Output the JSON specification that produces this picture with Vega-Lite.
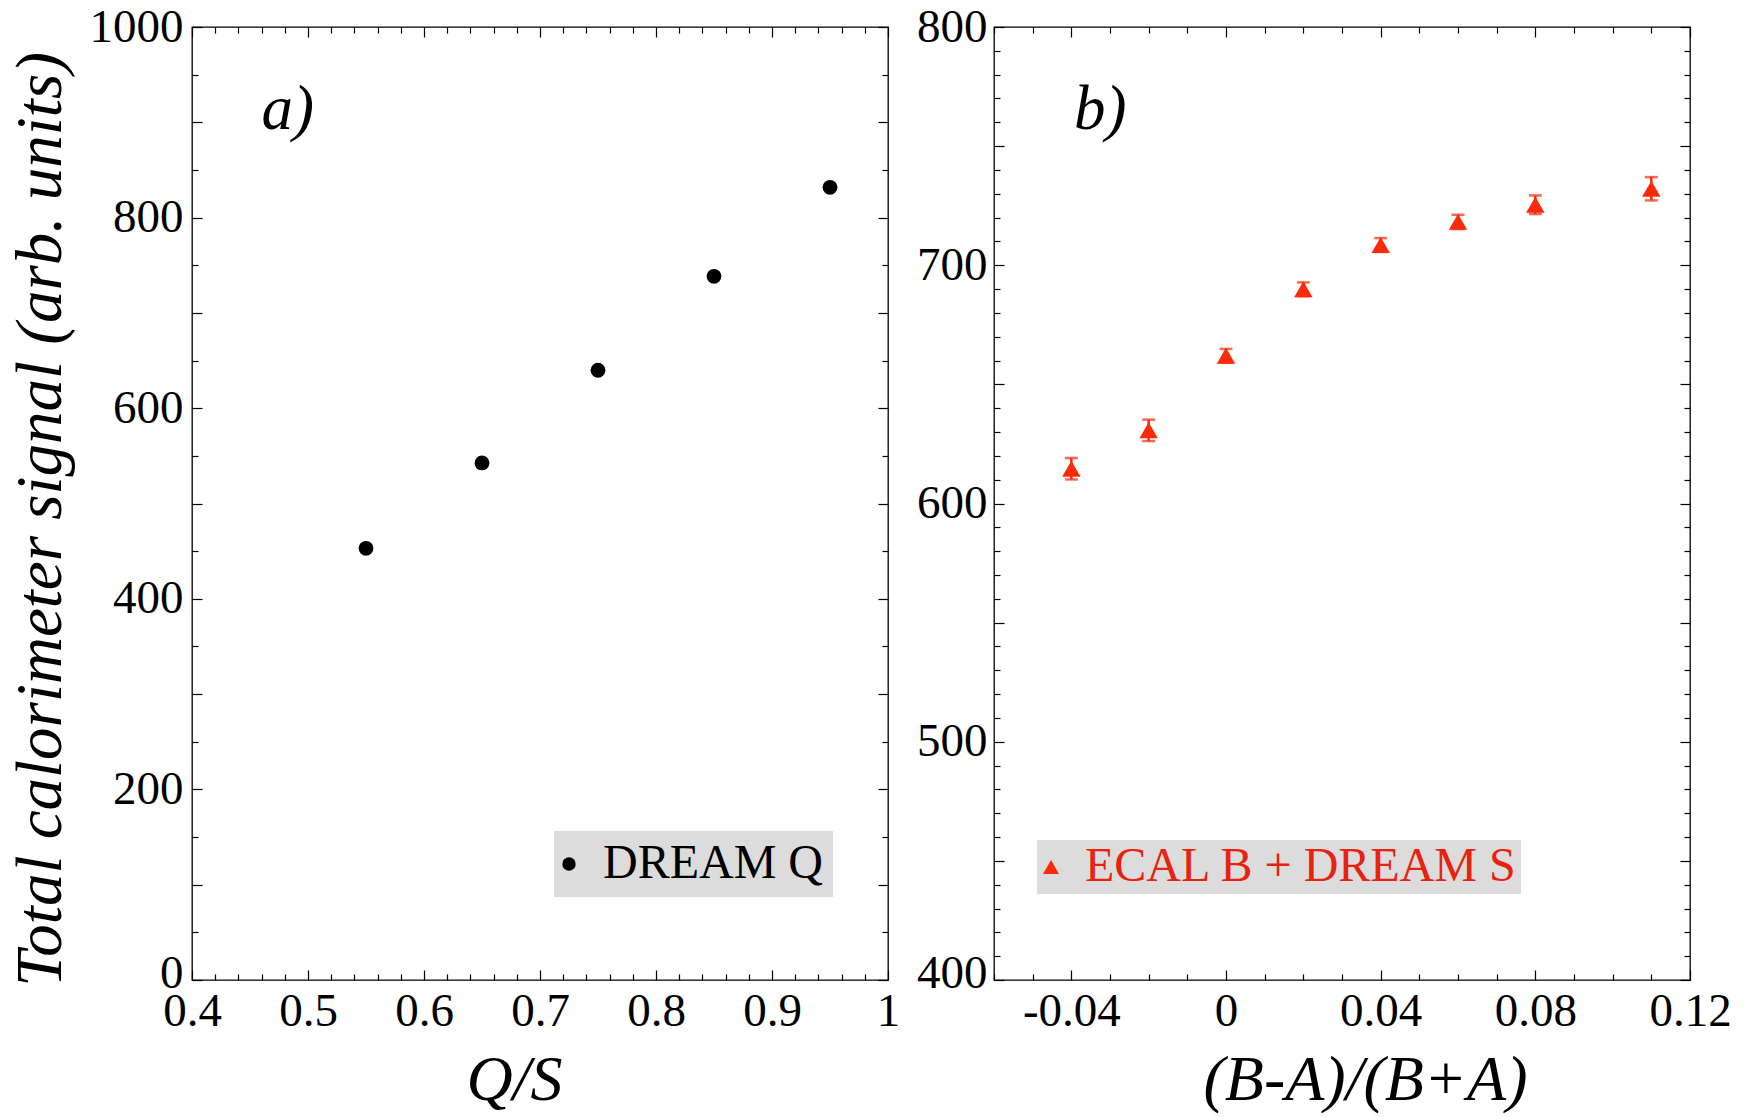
{
  "$schema": "https://vega.github.io/schema/vega-lite/v6.json",
  "background": "white",
  "padding": {"left": 7, "top": 2, "right": 5, "bottom": 0},
  "spacing": 14,
  "resolve": {"scale": {"color": "independent"}, "legend": {"color": "independent"}},
  "config": {
    "view": {"stroke": "black", "strokeWidth": 1.3},
    "font": "Liberation Serif",
    "axis": {
      "domain": false, "grid": false,
      "labelFont": "Liberation Serif", "labelFontSize": 47, "labelColor": "black",
      "tickColor": "black", "tickWidth": 1.2,
      "titleFont": "Liberation Serif", "titleFontSize": 64, "titleFontStyle": "italic", "titleFontWeight": "normal", "titleColor": "black",
      "labelOverlap": false, "labelFlush": false, "labelBound": false
    },
    "legend": {
      "labelFont": "Liberation Serif", "labelFontSize": 48, "labelColor": "black", "labelLimit": 0,
      "fillColor": "#dcdcdc", "strokeColor": null, "symbolStrokeWidth": 0
    }
  },
  "hconcat": [
    {
      "width": 696, "height": 953,
      "data": {"values": [
        {"qs": 0.55, "signal": 453, "series": "DREAM Q"},
        {"qs": 0.65, "signal": 542.6, "series": "DREAM Q"},
        {"qs": 0.75, "signal": 639.8, "series": "DREAM Q"},
        {"qs": 0.85, "signal": 738.4, "series": "DREAM Q"},
        {"qs": 0.95, "signal": 831.8, "series": "DREAM Q"}
      ]},
      "resolve": {"axis": {"x": "independent", "y": "independent"}},
      "layer": [
        {
          "mark": {"type": "point", "filled": true, "shape": "circle", "size": 220, "opacity": 1},
          "encoding": {
            "x": {"field": "qs", "type": "quantitative", "scale": {"domain": [0.4, 1], "nice": false, "zero": false},
              "axis": {"orient": "bottom", "title": "Q/S", "titleX": 322, "titleAlign": "center",
                "values": [0.4,0.42,0.44,0.46,0.48,0.5,0.52,0.54,0.56,0.58,0.6,0.62,0.64,0.66,0.68,0.7,0.72,0.74,0.76,0.78,0.8,0.82,0.84,0.86,0.88,0.9,0.92,0.94,0.96,0.98,1],
                "labelExpr": "abs(round(datum.value*10)-datum.value*10) < 1e-6 ? format(datum.value, '.1~f') : ''",
                "tickSize": {"condition": {"test": "abs(round(datum.value*10)-datum.value*10) < 1e-6", "value": -10}, "value": -6},
                "labelPadding": 18, "titlePadding": 10}},
            "y": {"field": "signal", "type": "quantitative", "scale": {"domain": [0, 1000], "nice": false},
              "axis": {"orient": "left", "title": "Total calorimeter signal (arb. units)", "titleY": 492, "titleAlign": "center", "titleFontSize": 65,
                "values": [0,50,100,150,200,250,300,350,400,450,500,550,600,650,700,750,800,850,900,950,1000],
                "labelExpr": "datum.value % 200 === 0 ? '' + datum.value : ''",
                "labelOffset": {"condition": {"test": "datum.value === 0", "value": -7}, "value": 0},
                "tickSize": {"condition": {"test": "datum.value % 100 === 0", "value": -10}, "value": -6},
                "labelPadding": 19, "titlePadding": 15}},
            "color": {"field": "series", "type": "nominal", "scale": {"range": ["black"]},
              "legend": {"orient": "none", "legendX": 362, "legendY": 804, "title": null, "symbolType": "circle", "symbolSize": 180, "padding": 9, "symbolOffset": -18, "labelOffset": 10}}
          }
        },
        {
          "data": {"values": [{"label": "a)"}]},
          "mark": {"type": "text", "font": "Liberation Serif", "fontSize": 63, "fontStyle": "italic", "align": "left", "baseline": "alphabetic", "color": "black"},
          "encoding": {
            "x": {"datum": 0.46, "type": "quantitative",
              "axis": {"orient": "top", "title": null, "labels": false,
                "values": [0.4,0.42,0.44,0.46,0.48,0.5,0.52,0.54,0.56,0.58,0.6,0.62,0.64,0.66,0.68,0.7,0.72,0.74,0.76,0.78,0.8,0.82,0.84,0.86,0.88,0.9,0.92,0.94,0.96,0.98,1],
                "tickSize": {"condition": {"test": "abs(round(datum.value*10)-datum.value*10) < 1e-6", "value": -10}, "value": -6}}},
            "y": {"datum": 893, "type": "quantitative",
              "axis": {"orient": "right", "title": null, "labels": false,
                "values": [0,50,100,150,200,250,300,350,400,450,500,550,600,650,700,750,800,850,900,950,1000],
                "tickSize": {"condition": {"test": "datum.value % 100 === 0", "value": -10}, "value": -6}}},
            "text": {"field": "label"}
          }
        }
      ]
    },
    {
      "width": 696, "height": 953,
      "data": {"values": [
        {"ba": -0.04, "signal": 614.6, "err": 4.5, "series": "ECAL B + DREAM S"},
        {"ba": -0.02, "signal": 630.7, "err": 4.5, "series": "ECAL B + DREAM S"},
        {"ba": 0.0, "signal": 662.0, "err": 2.9, "series": "ECAL B + DREAM S"},
        {"ba": 0.02, "signal": 689.9, "err": 2.9, "series": "ECAL B + DREAM S"},
        {"ba": 0.04, "signal": 708.5, "err": 2.9, "series": "ECAL B + DREAM S"},
        {"ba": 0.06, "signal": 718.2, "err": 3.0, "series": "ECAL B + DREAM S"},
        {"ba": 0.08, "signal": 725.4, "err": 3.9, "series": "ECAL B + DREAM S"},
        {"ba": 0.11, "signal": 732.1, "err": 4.9, "series": "ECAL B + DREAM S"}
      ]},
      "resolve": {"axis": {"x": "independent", "y": "independent"}},
      "layer": [
        {
          "mark": {"type": "errorbar", "color": "#fb2a0a", "thickness": 2.5, "size": 13, "ticks": true},
          "encoding": {
            "x": {"field": "ba", "type": "quantitative", "scale": {"domain": [-0.06, 0.12], "nice": false, "zero": false},
              "axis": {"orient": "bottom", "title": "(B-A)/(B+A)", "titleX": 371, "titleAlign": "center",
                "values": [-0.06,-0.05,-0.04,-0.03,-0.02,-0.01,0,0.01,0.02,0.03,0.04,0.05,0.06,0.07,0.08,0.09,0.1,0.11,0.12],
                "labelExpr": "abs(round(datum.value*25)-datum.value*25) < 1e-6 ? (datum.value < 0 ? '-' : '') + format(abs(datum.value), '.2~f') : ''",
                "tickSize": {"condition": {"test": "abs(round(datum.value*25)-datum.value*25) < 1e-6", "value": -10}, "value": -6},
                "labelPadding": 18, "titlePadding": 10}},
            "y": {"field": "signal", "type": "quantitative", "scale": {"domain": [400, 800], "nice": false, "zero": false},
              "axis": {"orient": "left", "title": null,
                "values": [400,410,420,430,440,450,460,470,480,490,500,510,520,530,540,550,560,570,580,590,600,610,620,630,640,650,660,670,680,690,700,710,720,730,740,750,760,770,780,790,800],
                "labelExpr": "datum.value % 100 === 0 ? '' + datum.value : ''",
                "labelOffset": {"condition": {"test": "datum.value === 400", "value": -7}, "value": 0},
                "tickSize": {"condition": {"test": "datum.value % 50 === 0", "value": -10}, "value": -6},
                "labelPadding": 17}},
            "yError": {"field": "err"}
          }
        },
        {
          "mark": {"type": "point", "filled": true, "shape": "triangle-up", "size": 340, "opacity": 1},
          "encoding": {
            "x": {"field": "ba", "type": "quantitative", "axis": null},
            "y": {"field": "signal", "type": "quantitative", "axis": null},
            "color": {"field": "series", "type": "nominal", "scale": {"range": ["#fb2a0a"]},
              "legend": {"orient": "none", "legendX": 43, "legendY": 813, "title": null, "symbolType": "triangle-up", "symbolSize": 256, "padding": 3, "symbolOffset": -13, "labelOffset": 10, "labelColor": "#e8220e"}}
          }
        },
        {
          "data": {"values": [{"label": "b)"}]},
          "mark": {"type": "text", "font": "Liberation Serif", "fontSize": 63, "fontStyle": "italic", "align": "left", "baseline": "alphabetic", "color": "black"},
          "encoding": {
            "x": {"datum": -0.0393, "type": "quantitative",
              "axis": {"orient": "top", "title": null, "labels": false,
                "values": [-0.06,-0.05,-0.04,-0.03,-0.02,-0.01,0,0.01,0.02,0.03,0.04,0.05,0.06,0.07,0.08,0.09,0.1,0.11,0.12],
                "tickSize": {"condition": {"test": "abs(round(datum.value*25)-datum.value*25) < 1e-6", "value": -10}, "value": -6}}},
            "y": {"datum": 757, "type": "quantitative",
              "axis": {"orient": "right", "title": null, "labels": false,
                "values": [400,410,420,430,440,450,460,470,480,490,500,510,520,530,540,550,560,570,580,590,600,610,620,630,640,650,660,670,680,690,700,710,720,730,740,750,760,770,780,790,800],
                "tickSize": {"condition": {"test": "datum.value % 50 === 0", "value": -10}, "value": -6}}},
            "text": {"field": "label"}
          }
        }
      ]
    }
  ]
}
